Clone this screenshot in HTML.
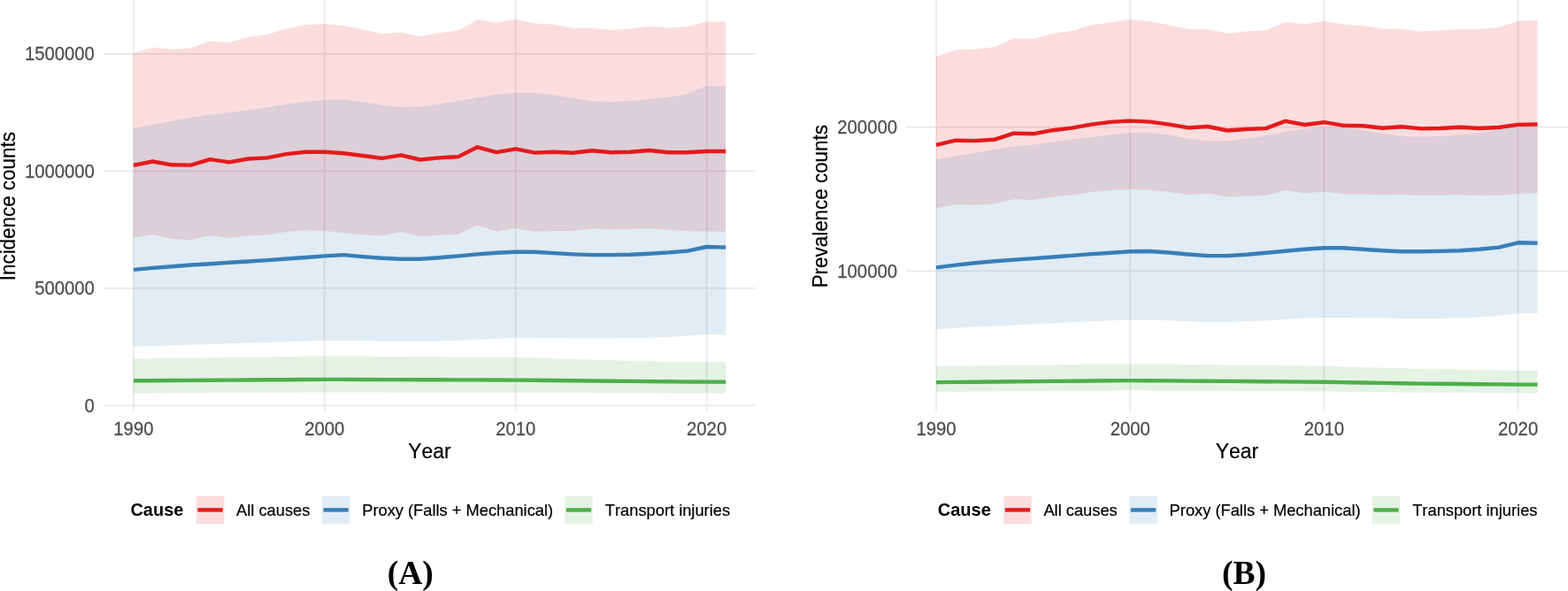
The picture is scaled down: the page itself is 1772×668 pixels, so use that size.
<!DOCTYPE html>
<html><head><meta charset="utf-8"><title>Incidence and prevalence counts</title>
<style>
html,body{margin:0;padding:0;background:#fff;}
body{width:1772px;height:668px;overflow:hidden;}
svg{display:block;}
text{font-kerning:none;}
.tick{font-family:"Liberation Sans", Arial, Helvetica, sans-serif;font-size:20.3px;fill:#4D4D4D;stroke:#4D4D4D;stroke-width:0.25px;}
.title{font-family:"Liberation Sans", Arial, Helvetica, sans-serif;font-size:22.4px;fill:#000;stroke:#000;stroke-width:0.2px;}
.xtitle{font-family:"Liberation Sans", Arial, Helvetica, sans-serif;font-size:22.9px;fill:#000;stroke:#000;stroke-width:0.2px;}
.leg{font-family:"Liberation Sans", Arial, Helvetica, sans-serif;font-size:18.3px;fill:#000;stroke:#000;stroke-width:0.2px;}
.legt{font-family:"Liberation Sans", Arial, Helvetica, sans-serif;font-size:20px;font-weight:bold;fill:#000;}
.lab{font-family:"Liberation Serif", "Times New Roman", serif;font-size:37.5px;font-weight:bold;fill:#000;}
</style></head>
<body>
<svg width="1772" height="668" viewBox="0 0 1772 668">
<rect width="1772" height="668" fill="#fff"/>
<line x1="150.9" y1="0" x2="150.9" y2="465.5" stroke="#EBEBEB" stroke-width="2.0"/>
<line x1="366.8" y1="0" x2="366.8" y2="465.5" stroke="#EBEBEB" stroke-width="2.0"/>
<line x1="582.7" y1="0" x2="582.7" y2="465.5" stroke="#EBEBEB" stroke-width="2.0"/>
<line x1="798.6" y1="0" x2="798.6" y2="465.5" stroke="#EBEBEB" stroke-width="2.0"/>
<line x1="117.2" y1="60.9" x2="853.7" y2="60.9" stroke="#EBEBEB" stroke-width="2.0"/>
<line x1="117.2" y1="193.4" x2="853.7" y2="193.4" stroke="#EBEBEB" stroke-width="2.0"/>
<line x1="117.2" y1="325.8" x2="853.7" y2="325.8" stroke="#EBEBEB" stroke-width="2.0"/>
<line x1="117.2" y1="458.3" x2="853.7" y2="458.3" stroke="#EBEBEB" stroke-width="2.0"/>
<polygon points="150.9,59.9 172.49,53.8 194.08,55.5 215.67,54.6 237.26,46.2 258.85,48.2 280.44,42.1 302.03,39.1 323.62,32.5 345.21,28 366.8,27.1 388.39,29.1 409.98,33.2 431.57,38.2 453.16,36.6 474.75,41.3 496.34,37.2 517.93,34.5 539.52,22.3 561.11,25.5 582.7,21.7 604.29,26.4 625.88,27.8 647.47,31.8 669.06,31.4 690.65,34.1 712.24,32.5 733.83,29.8 755.42,31.4 777.01,30.1 798.6,24.4 820.19,24.4 820.19,261.7 798.6,261.7 777.01,261 755.42,260 733.83,257.9 712.24,259 690.65,259.2 669.06,258.3 647.47,261 625.88,261 604.29,261.7 582.7,257.9 561.11,261.7 539.52,254.5 517.93,265.1 496.34,265.7 474.75,267.1 453.16,261.9 431.57,266.4 409.98,265.1 388.39,263.3 366.8,261 345.21,260.3 323.62,261.9 302.03,265.5 280.44,266.4 258.85,268.9 237.26,266 215.67,271.2 194.08,270.1 172.49,265.1 150.9,268.7" fill="#E41A1C" fill-opacity="0.15"/>
<polygon points="150.9,145.3 172.49,141 194.08,136.7 215.67,132.9 237.26,129.6 258.85,127.3 280.44,124.6 302.03,121.4 323.62,118.1 345.21,115.1 366.8,112.8 388.39,112.4 409.98,115.4 431.57,118.8 453.16,121.2 474.75,120.8 496.34,117.4 517.93,114 539.52,110.4 561.11,106.8 582.7,104.9 604.29,105 625.88,107.4 647.47,110.8 669.06,114.5 690.65,115.1 712.24,114.2 733.83,112.1 755.42,109.8 777.01,106.3 798.6,96.8 820.19,97.4 820.19,378.4 798.6,377.9 777.01,379.8 755.42,381.1 733.83,381.8 712.24,382.2 690.65,382.6 669.06,382.6 647.47,382.5 625.88,382.2 604.29,381.7 582.7,381.8 561.11,382.8 539.52,383.8 517.93,384.7 496.34,385.4 474.75,385.8 453.16,385.7 431.57,385.5 409.98,385.2 388.39,384.9 366.8,385 345.21,385.6 323.62,386.3 302.03,387 280.44,387.7 258.85,388.3 237.26,389 215.67,389.7 194.08,390.4 172.49,391 150.9,391.7" fill="#377EB8" fill-opacity="0.15"/>
<polygon points="150.9,405.6 172.49,405.3 194.08,405 215.67,404.7 237.26,404.4 258.85,404.1 280.44,403.7 302.03,403.4 323.62,403.1 345.21,402.8 366.8,402.5 388.39,402.6 409.98,402.7 431.57,402.9 453.16,403 474.75,403.2 496.34,403.3 517.93,403.5 539.52,403.6 561.11,403.8 582.7,403.9 604.29,404.6 625.88,405.2 647.47,405.9 669.06,406.6 690.65,407.2 712.24,407.8 733.83,408.3 755.42,408.9 777.01,409.1 798.6,409.3 820.19,409.3 820.19,444.5 798.6,444.5 777.01,444.5 755.42,444.4 733.83,444.3 712.24,444.3 690.65,444.2 669.06,444.1 647.47,444 625.88,444 604.29,443.9 582.7,443.8 561.11,443.8 539.52,443.8 517.93,443.8 496.34,443.8 474.75,443.8 453.16,443.7 431.57,443.6 409.98,443.6 388.39,443.5 366.8,443.5 345.21,443.6 323.62,443.7 302.03,443.8 280.44,443.9 258.85,444 237.26,444.1 215.67,444.2 194.08,444.3 172.49,444.4 150.9,444.5" fill="#4DAF4A" fill-opacity="0.15"/>
<polyline points="150.9,186.8 172.49,182.5 194.08,186.3 215.67,186.6 237.26,180.1 258.85,183.3 280.44,179.5 302.03,178.4 323.62,174.1 345.21,171.7 366.8,171.7 388.39,173.3 409.98,176 431.57,178.9 453.16,175.3 474.75,180.5 496.34,178.4 517.93,177.1 539.52,166.3 561.11,172.1 582.7,168.3 604.29,172.6 625.88,171.7 647.47,172.8 669.06,170.3 690.65,172.3 712.24,171.7 733.83,170 755.42,172.3 777.01,172.2 798.6,171 820.19,171" fill="none" stroke="#E41A1C" stroke-width="4.4" stroke-linejoin="round" stroke-linecap="butt"/>
<polyline points="150.9,304.9 172.49,302.9 194.08,301.2 215.67,299.5 237.26,298.2 258.85,296.8 280.44,295.5 302.03,294.1 323.62,292.5 345.21,291 366.8,289.4 388.39,288.1 409.98,290.1 431.57,291.7 453.16,292.8 474.75,292.8 496.34,291.2 517.93,289.4 539.52,287.4 561.11,285.8 582.7,284.7 604.29,284.7 625.88,286.1 647.47,287.4 669.06,288.1 690.65,288.1 712.24,287.7 733.83,286.7 755.42,285.4 777.01,283.6 798.6,279 820.19,279.6" fill="none" stroke="#377EB8" stroke-width="4.4" stroke-linejoin="round" stroke-linecap="butt"/>
<polyline points="150.9,430.3 172.49,430.2 194.08,430 215.67,429.9 237.26,429.7 258.85,429.6 280.44,429.5 302.03,429.3 323.62,429.2 345.21,429 366.8,428.9 388.39,428.9 409.98,429 431.57,429.1 453.16,429.1 474.75,429.2 496.34,429.3 517.93,429.4 539.52,429.4 561.11,429.5 582.7,429.6 604.29,429.8 625.88,430 647.47,430.2 669.06,430.5 690.65,430.7 712.24,430.9 733.83,431.1 755.42,431.3 777.01,431.5 798.6,431.6 820.19,431.6" fill="none" stroke="#4DAF4A" stroke-width="4.4" stroke-linejoin="round" stroke-linecap="butt"/>
<text transform="translate(106.9,465.6) scale(1,1.06)" text-anchor="end" class="tick">0</text>
<text transform="translate(106.9,333.1) scale(1,1.06)" text-anchor="end" class="tick">500000</text>
<text transform="translate(106.9,200.7) scale(1,1.06)" text-anchor="end" class="tick">1000000</text>
<text transform="translate(106.9,68.2) scale(1,1.06)" text-anchor="end" class="tick">1500000</text>
<text transform="translate(150.9,491.8) scale(1,1.06)" text-anchor="middle" class="tick">1990</text>
<text transform="translate(366.8,491.8) scale(1,1.06)" text-anchor="middle" class="tick">2000</text>
<text transform="translate(582.7,491.8) scale(1,1.06)" text-anchor="middle" class="tick">2010</text>
<text transform="translate(798.6,491.8) scale(1,1.06)" text-anchor="middle" class="tick">2020</text>
<text transform="translate(485.45,517.8) scale(1,1.06)" text-anchor="middle" class="xtitle">Year</text>
<text transform="translate(16.9,233.2) rotate(-90) scale(1,1.06)" text-anchor="middle" class="title">Incidence counts</text>
<line x1="1058" y1="0" x2="1058" y2="465.5" stroke="#EBEBEB" stroke-width="2.0"/>
<line x1="1277.2" y1="0" x2="1277.2" y2="465.5" stroke="#EBEBEB" stroke-width="2.0"/>
<line x1="1496.4" y1="0" x2="1496.4" y2="465.5" stroke="#EBEBEB" stroke-width="2.0"/>
<line x1="1715.6" y1="0" x2="1715.6" y2="465.5" stroke="#EBEBEB" stroke-width="2.0"/>
<line x1="1024.2" y1="143.7" x2="1771.5" y2="143.7" stroke="#EBEBEB" stroke-width="2.0"/>
<line x1="1024.2" y1="306.3" x2="1771.5" y2="306.3" stroke="#EBEBEB" stroke-width="2.0"/>
<polygon points="1058,63.9 1079.92,56.5 1101.84,55.4 1123.76,53.3 1145.68,43.6 1167.6,44.1 1189.52,38 1211.44,35.1 1233.36,28.3 1255.28,25.6 1277.2,21.9 1299.12,24 1321.04,28.3 1342.96,33 1364.88,33 1386.8,37.8 1408.72,35.5 1430.64,34.1 1452.56,25.2 1474.48,27.2 1496.4,24 1518.32,27.6 1540.24,29 1562.16,32.6 1584.08,32.9 1606,35.4 1627.92,34.3 1649.84,33 1671.76,32.9 1693.68,31.2 1715.6,23.7 1737.52,23.1 1737.52,218.5 1715.6,218.9 1693.68,220.8 1671.76,221.3 1649.84,220.3 1627.92,220.6 1606,220.8 1584.08,219.9 1562.16,220.3 1540.24,219.6 1518.32,219.3 1496.4,216.4 1474.48,218.4 1452.56,215.1 1430.64,220.9 1408.72,221.4 1386.8,222.5 1364.88,218.7 1342.96,220.1 1321.04,217.1 1299.12,215.1 1277.2,214.1 1255.28,215.1 1233.36,217.1 1211.44,220.5 1189.52,222.5 1167.6,225.9 1145.68,225.2 1123.76,230.6 1101.84,231.7 1079.92,231.3 1058,235.6" fill="#E41A1C" fill-opacity="0.15"/>
<polygon points="1058,180.2 1079.92,176.5 1101.84,172.7 1123.76,169.1 1145.68,165.8 1167.6,163.4 1189.52,160.6 1211.44,157.7 1233.36,154.9 1255.28,152.2 1277.2,150.1 1299.12,149.8 1321.04,152.5 1342.96,156.6 1364.88,159.6 1386.8,159.6 1408.72,156.6 1430.64,153.2 1452.56,149.1 1474.48,145.7 1496.4,143.7 1518.32,144.3 1540.24,146.8 1562.16,150.8 1584.08,153.9 1606,154.6 1627.92,154.1 1649.84,152.4 1671.76,149.9 1693.68,146.8 1715.6,142.6 1737.52,142.6 1737.52,354.3 1715.6,354.3 1693.68,357.1 1671.76,358.6 1649.84,359.3 1627.92,359.9 1606,360.1 1584.08,360.1 1562.16,359.6 1540.24,359.2 1518.32,358.9 1496.4,359 1474.48,359.6 1452.56,361 1430.64,362.3 1408.72,363.3 1386.8,364.1 1364.88,364.1 1342.96,363.3 1321.04,362.3 1299.12,361.4 1277.2,361.4 1255.28,362.3 1233.36,363.2 1211.44,364.2 1189.52,365.2 1167.6,366.3 1145.68,367.4 1123.76,368.5 1101.84,369.6 1079.92,370.9 1058,372.1" fill="#377EB8" fill-opacity="0.15"/>
<polygon points="1058,414.2 1079.92,413.9 1101.84,413.6 1123.76,413.3 1145.68,413 1167.6,412.7 1189.52,412.4 1211.44,412.1 1233.36,411.8 1255.28,411.5 1277.2,411.2 1299.12,411.46 1321.04,411.72 1342.96,411.98 1364.88,412.24 1386.8,412.5 1408.72,412.78 1430.64,413.06 1452.56,413.34 1474.48,413.62 1496.4,413.9 1518.32,414.5 1540.24,415.1 1562.16,415.7 1584.08,416.3 1606,416.9 1627.92,417.28 1649.84,417.66 1671.76,418.04 1693.68,418.42 1715.6,418.8 1737.52,418.8 1737.52,444.4 1715.6,444.4 1693.68,444.26 1671.76,444.12 1649.84,443.98 1627.92,443.84 1606,443.7 1584.08,443.46 1562.16,443.22 1540.24,442.98 1518.32,442.74 1496.4,442.5 1474.48,442.4 1452.56,442.3 1430.64,442.2 1408.72,442.1 1386.8,442 1364.88,441.86 1342.96,441.72 1321.04,441.58 1299.12,441.44 1277.2,441.3 1255.28,441.46 1233.36,441.62 1211.44,441.78 1189.52,441.94 1167.6,442.1 1145.68,442.26 1123.76,442.42 1101.84,442.58 1079.92,442.74 1058,442.9" fill="#4DAF4A" fill-opacity="0.15"/>
<polyline points="1058,163.9 1079.92,158.7 1101.84,159.1 1123.76,157.8 1145.68,150.6 1167.6,151.3 1189.52,147.2 1211.44,144.6 1233.36,140.6 1255.28,137.9 1277.2,136.6 1299.12,137.6 1321.04,140.6 1342.96,144.4 1364.88,143 1386.8,147.5 1408.72,146 1430.64,145.1 1452.56,136.9 1474.48,141 1496.4,138.2 1518.32,141.9 1540.24,142.3 1562.16,144.7 1584.08,143.3 1606,145.4 1627.92,145 1649.84,143.7 1671.76,145 1693.68,144 1715.6,140.9 1737.52,140.5" fill="none" stroke="#E41A1C" stroke-width="4.4" stroke-linejoin="round" stroke-linecap="butt"/>
<polyline points="1058,302.4 1079.92,299.6 1101.84,297.2 1123.76,295.2 1145.68,293.6 1167.6,292.1 1189.52,290.5 1211.44,288.9 1233.36,287.1 1255.28,285.7 1277.2,284.3 1299.12,284 1321.04,285.5 1342.96,287.5 1364.88,289.1 1386.8,289.1 1408.72,287.8 1430.64,285.7 1452.56,283.7 1474.48,281.7 1496.4,280.3 1518.32,280.3 1540.24,281.7 1562.16,283.2 1584.08,284.3 1606,284.3 1627.92,283.9 1649.84,283.2 1671.76,281.7 1693.68,279.6 1715.6,274.3 1737.52,274.7" fill="none" stroke="#377EB8" stroke-width="4.4" stroke-linejoin="round" stroke-linecap="butt"/>
<polyline points="1058,432.1 1079.92,431.9 1101.84,431.7 1123.76,431.5 1145.68,431.3 1167.6,431.1 1189.52,430.9 1211.44,430.7 1233.36,430.5 1255.28,430.3 1277.2,430.1 1299.12,430.26 1321.04,430.42 1342.96,430.58 1364.88,430.74 1386.8,430.9 1408.72,431.07 1430.64,431.24 1452.56,431.41 1474.48,431.58 1496.4,431.75 1518.32,432.12 1540.24,432.49 1562.16,432.86 1584.08,433.23 1606,433.6 1627.92,433.8 1649.84,434 1671.76,434.2 1693.68,434.4 1715.6,434.6 1737.52,434.6" fill="none" stroke="#4DAF4A" stroke-width="4.4" stroke-linejoin="round" stroke-linecap="butt"/>
<text transform="translate(1014,313.6) scale(1,1.06)" text-anchor="end" class="tick">100000</text>
<text transform="translate(1014,151) scale(1,1.06)" text-anchor="end" class="tick">200000</text>
<text transform="translate(1058,491.8) scale(1,1.06)" text-anchor="middle" class="tick">1990</text>
<text transform="translate(1277.2,491.8) scale(1,1.06)" text-anchor="middle" class="tick">2000</text>
<text transform="translate(1496.4,491.8) scale(1,1.06)" text-anchor="middle" class="tick">2010</text>
<text transform="translate(1715.6,491.8) scale(1,1.06)" text-anchor="middle" class="tick">2020</text>
<text transform="translate(1397.85,517.8) scale(1,1.06)" text-anchor="middle" class="xtitle">Year</text>
<text transform="translate(935,233.2) rotate(-90) scale(1,1.06)" text-anchor="middle" class="title">Prevalence counts</text>
<text transform="translate(147.4,583.2) scale(1,1.03)" class="legt">Cause</text>
<rect x="221.8" y="560.6" width="31.5" height="31.5" fill="#E41A1C" fill-opacity="0.15"/>
<line x1="223.4" y1="576.4" x2="251.7" y2="576.4" stroke="#E41A1C" stroke-width="4.4"/>
<text transform="translate(267,582.7) scale(1,1.03)" class="leg">All causes</text>
<rect x="363.9" y="560.6" width="31.5" height="31.5" fill="#377EB8" fill-opacity="0.15"/>
<line x1="365.5" y1="576.4" x2="393.8" y2="576.4" stroke="#377EB8" stroke-width="4.4"/>
<text transform="translate(409.2,582.7) scale(1,1.03)" class="leg">Proxy (Falls + Mechanical)</text>
<rect x="638.3" y="560.6" width="31.5" height="31.5" fill="#4DAF4A" fill-opacity="0.15"/>
<line x1="639.9" y1="576.4" x2="668.2" y2="576.4" stroke="#4DAF4A" stroke-width="4.4"/>
<text transform="translate(683.8,582.7) scale(1,1.03)" class="leg">Transport injuries</text>
<text transform="translate(1059.8,583.2) scale(1,1.03)" class="legt">Cause</text>
<rect x="1134.2" y="560.6" width="31.5" height="31.5" fill="#E41A1C" fill-opacity="0.15"/>
<line x1="1135.8" y1="576.4" x2="1164.1" y2="576.4" stroke="#E41A1C" stroke-width="4.4"/>
<text transform="translate(1179.4,582.7) scale(1,1.03)" class="leg">All causes</text>
<rect x="1276.3" y="560.6" width="31.5" height="31.5" fill="#377EB8" fill-opacity="0.15"/>
<line x1="1277.9" y1="576.4" x2="1306.2" y2="576.4" stroke="#377EB8" stroke-width="4.4"/>
<text transform="translate(1321.6,582.7) scale(1,1.03)" class="leg">Proxy (Falls + Mechanical)</text>
<rect x="1550.7" y="560.6" width="31.5" height="31.5" fill="#4DAF4A" fill-opacity="0.15"/>
<line x1="1552.3" y1="576.4" x2="1580.6" y2="576.4" stroke="#4DAF4A" stroke-width="4.4"/>
<text transform="translate(1596.2,582.7) scale(1,1.03)" class="leg">Transport injuries</text>
<text x="463.7" y="659.7" text-anchor="middle" class="lab">(A)</text>
<text x="1405.9" y="659.7" text-anchor="middle" class="lab">(B)</text>
</svg>
</body></html>
